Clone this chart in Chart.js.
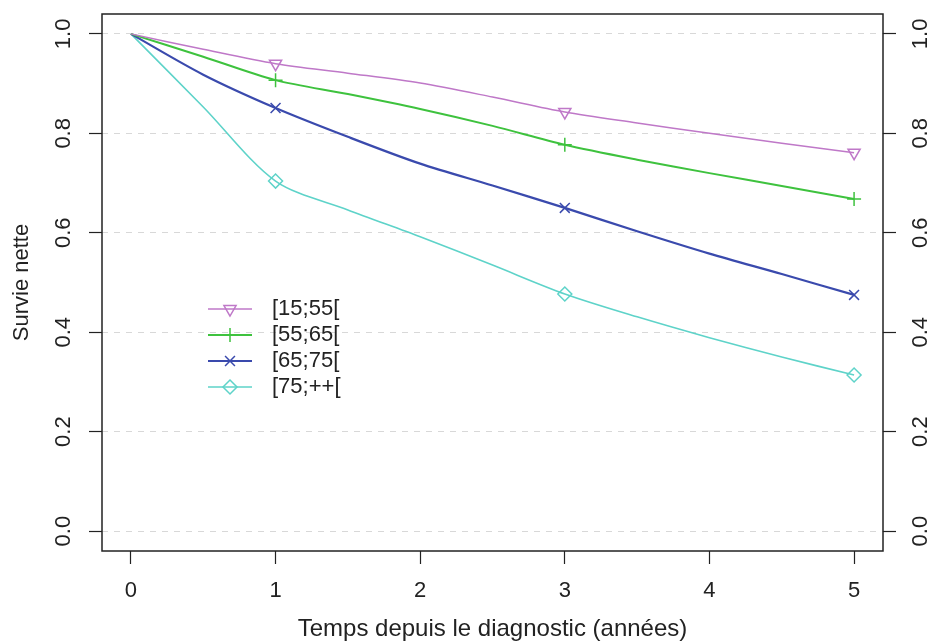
<!DOCTYPE html>
<html>
<head>
<meta charset="utf-8">
<script src="https://cdn.jsdelivr.net/npm/chart.js@4.4.0/dist/chart.umd.min.js"></script>
<style>
  html, body { margin: 0; padding: 0; background: #fff; }
</style>
</head>
<body>
<canvas id="survie" width="936" height="644"></canvas>
<script>
// Temps (années) et survie nette par classe d'âge
const temps = [0, 0.5, 1, 1.5, 2, 2.5, 3, 3.5, 4, 4.5, 5];
const groupes = ["[15;55[", "[55;65[", "[65;75[", "[75;++["];
const survie15_55 = [1, 0.969, 0.940, 0.921, 0.901, 0.873, 0.843, 0.821, 0.800, 0.780, 0.761];
const survie55_65 = [1, 0.954, 0.907, 0.879, 0.849, 0.815, 0.777, 0.747, 0.720, 0.694, 0.668];
const survie65_75 = [1, 0.918, 0.851, 0.793, 0.739, 0.695, 0.650, 0.603, 0.558, 0.517, 0.475];
const survie75plus = [1, 0.853, 0.704, 0.646, 0.592, 0.535, 0.477, 0.431, 0.389, 0.350, 0.314];
const tempsMarques = [1, 3, 5];
const xTicks = [0, 1, 2, 3, 4, 5];
const yTicks = [0, 0.2, 0.4, 0.6, 0.8, 1.0];

const couleurs = ["#bf78c8", "#3ec23e", "#3a4aad", "#5ed3c9"];
const symboles = ["triangle", "cross", "crossRot", "rectRot"];
const rotations = [180, 0, 0, 0];
const epaisseurs = [1.5, 2, 2.2, 1.6];
const police = "'Liberation Sans', Arial, Helvetica, sans-serif";
const texte = "#222";

function serie(i, valeurs) {
  return {
    label: groupes[i],
    data: temps.map((t, k) => ({ x: t, y: valeurs[k] })),
    borderColor: couleurs[i],
    borderWidth: epaisseurs[i],
    pointStyle: symboles[i],
    pointRotation: rotations[i],
    pointRadius: temps.map((t) => (tempsMarques.includes(t) ? 7 : 0)),
    pointBorderColor: couleurs[i],
    pointBackgroundColor: "rgba(0,0,0,0)",
    pointBorderWidth: 1.5,
    tension: 0.3,
    fill: false,
    yAxisID: "y",
  };
}

// Cadre, étiquettes verticales de l'axe y et légende
const cadre = {
  id: "cadre",
  afterDraw(chart) {
    const { ctx, chartArea: a } = chart;
    ctx.save();
    ctx.strokeStyle = texte;
    ctx.lineWidth = 1.5;
    ctx.strokeRect(a.left, a.top, a.right - a.left, a.bottom - a.top);

    // tick labels rotated like R (las = 0)
    ctx.fillStyle = texte;
    ctx.font = "22px " + police;
    ctx.textAlign = "center";
    ctx.textBaseline = "middle";
    const ys = chart.scales.y;
    ys.ticks.forEach((t) => {
      const py = ys.getPixelForValue(t.value);
      [a.left - 38, a.right + 38].forEach((px) => {
        ctx.save();
        ctx.translate(px, py);
        ctx.rotate(-Math.PI / 2);
        ctx.fillText(t.value.toFixed(1), 0, 0);
        ctx.restore();
      });
    });

    // legend
    const lx = 208, ly = 309, pas = 26;
    chart.data.datasets.forEach((ds, i) => {
      const y = ly + i * pas;
      ctx.strokeStyle = ds.borderColor;
      ctx.lineWidth = ds.borderWidth;
      ctx.beginPath();
      ctx.moveTo(lx, y);
      ctx.lineTo(lx + 44, y);
      ctx.stroke();
      ctx.fillStyle = "rgba(0,0,0,0)";
      ctx.lineWidth = 1.5;
      Chart.helpers.drawPoint(ctx, {
        pointStyle: ds.pointStyle,
        rotation: ds.pointRotation,
        radius: 7,
        borderWidth: 1.5,
      }, lx + 22, y);
      ctx.fillStyle = texte;
      ctx.textAlign = "left";
      ctx.textBaseline = "middle";
      ctx.fillText(ds.label, lx + 64, y);
    });
    ctx.restore();
  },
};

new Chart(document.getElementById("survie"), {
  type: "line",
  data: {
    datasets: [
      serie(0, survie15_55),
      serie(1, survie55_65),
      serie(2, survie65_75),
      serie(3, survie75plus),
    ],
  },
  options: {
    responsive: false,
    animation: false,
    devicePixelRatio: 1,
    layout: { padding: { top: 14, left: 0, right: 0, bottom: 0 } },
    plugins: { legend: { display: false }, tooltip: { enabled: false } },
    scales: {
      x: {
        type: "linear",
        min: -0.2,
        max: 5.2,
        afterBuildTicks: (s) => { s.ticks = xTicks.map((v) => ({ value: v })); },
        afterFit: (s) => { s.height = 93; },
        grid: { drawOnChartArea: false, drawTicks: true, tickLength: 13, tickColor: texte, tickWidth: 1.2 },
        border: { display: false },
        ticks: {
          autoSkip: false, maxRotation: 0, padding: 14, color: texte,
          font: { family: police, size: 22 },
          callback: (v) => String(v),
        },
        title: {
          display: true,
          text: "Temps depuis le diagnostic (années)",
          color: texte,
          font: { family: police, size: 24 },
          padding: { top: 0, bottom: 0 },
        },
      },
      y: {
        position: "left",
        min: -0.04,
        max: 1.04,
        afterBuildTicks: (s) => { s.ticks = yTicks.map((v) => ({ value: v })); },
        afterFit: (s) => { s.width = 102; },
        grid: { color: "#d8d8d8", lineWidth: 1, drawTicks: true, tickLength: 13, tickColor: texte, tickWidth: 1.2 },
        border: { display: false, dash: [6, 6] },
        ticks: { display: false },
        title: {
          display: true,
          text: "Survie nette",
          color: texte,
          font: { family: police, size: 22 },
          padding: { top: 9, bottom: 0 },
        },
      },
      y2: {
        position: "right",
        min: -0.04,
        max: 1.04,
        afterBuildTicks: (s) => { s.ticks = yTicks.map((v) => ({ value: v })); },
        afterFit: (s) => { s.width = 53; },
        grid: { drawOnChartArea: false, drawTicks: true, tickLength: 13, tickColor: texte, tickWidth: 1.2 },
        border: { display: false },
        ticks: { display: false },
      },
    },
  },
  plugins: [cadre],
});
</script>
</body>
</html>
